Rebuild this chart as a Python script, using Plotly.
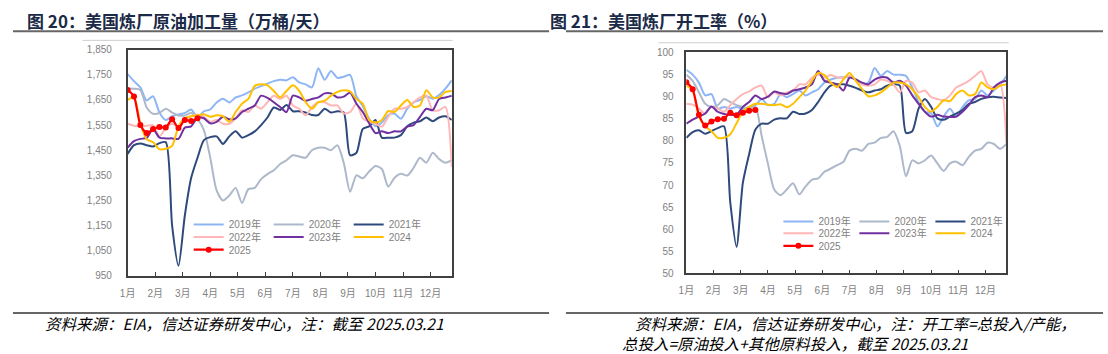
import plotly.graph_objects as go

W, H = 1108, 354

month_labels = [f"{m}月" for m in range(1, 13)]
years = ["2019年", "2020年", "2021年", "2022年", "2023年", "2024", "2025"]
colors = ["#8fb6f4", "#adb9ca", "#2e4a7d", "#ffb6b6", "#7030a0", "#ffc000", "#ff0000"]

crude_2019 = [1753, 1725, 1700, 1648, 1665, 1600, 1570, 1585, 1592, 1598, 1612, 1578, 1605, 1612, 1640, 1655,
              1640, 1660, 1668, 1680, 1695, 1705, 1715, 1725, 1730, 1728, 1740, 1720, 1712, 1700, 1776, 1730,
              1765, 1738, 1742, 1750, 1665, 1625, 1575, 1545, 1560, 1590, 1595, 1575, 1615, 1640, 1650, 1665,
              1655, 1670, 1695, 1728]
crude_2020 = [1696, 1695, 1690, 1620, 1595, 1598, 1615, 1600, 1588, 1588, 1598, 1575, 1530, 1420, 1290, 1250,
              1270, 1300, 1240, 1295, 1300, 1335, 1355, 1370, 1395, 1410, 1430, 1425, 1420, 1450, 1460, 1460,
              1450, 1470, 1400, 1285, 1350, 1338, 1365, 1387, 1375, 1305, 1340, 1356, 1349, 1380, 1420, 1400,
              1440, 1415, 1400, 1410]
crude_2021 = [1435, 1470, 1477, 1470, 1465, 1478, 1482, 1150, 990, 1190, 1340, 1420, 1490, 1502, 1505, 1475,
              1505, 1525, 1500, 1510, 1525, 1550, 1580, 1620, 1610, 1630, 1605, 1605, 1600, 1590, 1590, 1615,
              1600, 1605, 1600, 1430, 1440, 1535, 1545, 1570, 1500, 1500, 1500, 1510, 1545, 1560, 1565, 1580,
              1565, 1580, 1585, 1570]
crude_2022 = [1555, 1547, 1544, 1547, 1550, 1505, 1538, 1555, 1544, 1577, 1585, 1592, 1583, 1563, 1570, 1555,
              1555, 1577, 1609, 1602, 1628, 1615, 1641, 1667, 1654, 1667, 1628, 1615, 1589, 1622, 1641, 1641,
              1628, 1628, 1596, 1602, 1635, 1577, 1563, 1555, 1544, 1583, 1615, 1615, 1622, 1641, 1660, 1667,
              1609, 1609, 1622, 1383]
crude_2023 = [1460, 1486, 1495, 1499, 1534, 1500, 1497, 1497, 1495, 1540, 1545, 1580, 1577, 1557, 1563, 1583,
              1573, 1577, 1602, 1615, 1628, 1667, 1658, 1641, 1622, 1602, 1667, 1660, 1647, 1654, 1660, 1676,
              1676, 1660, 1663, 1680, 1635, 1602, 1557, 1518, 1525, 1518, 1525, 1525, 1544, 1550, 1583, 1615,
              1609, 1654, 1660, 1667]
crude_2024 = [1650, 1660, 1557, 1493, 1482, 1454, 1456, 1467, 1544, 1577, 1585, 1589, 1593, 1583, 1589, 1585,
              1563, 1602, 1635, 1654, 1706, 1712, 1708, 1686, 1660, 1686, 1708, 1686, 1641, 1615, 1641, 1647,
              1667, 1682, 1689, 1684, 1654, 1635, 1570, 1560, 1570, 1606, 1602, 1628, 1650, 1622, 1628, 1689,
              1660, 1660, 1682, 1686]
crude_2025 = [1690, 1664, 1550, 1518, 1534, 1542, 1540, 1573, 1538, 1570, 1566, 1577]

util_2019 = [96.1, 95.0, 93.2, 90.3, 90.6, 87.3, 87.7, 87.3, 87.7, 87.3, 87.7, 88.1, 89.5, 88.1, 88.4, 90.6,
             89.9, 90.6, 91.4, 90.3, 91.0, 91.7, 93.2, 93.9, 94.3, 94.4, 94.4, 93.9, 92.8, 93.2, 96.5, 94.7,
             95.8, 95.0, 95.0, 94.7, 92.1, 88.8, 86.6, 86.2, 83.3, 85.5, 87.3, 85.5, 87.7, 89.2, 89.5, 91.4,
             90.3, 91.4, 92.8, 94.7]
util_2020 = [95.0, 93.6, 91.0, 88.4, 87.7, 88.1, 89.5, 88.8, 88.1, 87.7, 87.3, 87.7, 81.1, 74.8, 69.0, 67.7,
             69.0, 70.4, 67.9, 69.7, 71.2, 71.5, 73.0, 73.7, 74.5, 75.2, 77.8, 78.2, 77.8, 79.3, 79.6, 80.7,
             80.9, 82.2, 78.9, 72.0, 75.6, 74.9, 75.6, 76.7, 74.9, 73.2, 74.9, 75.3, 74.5, 76.4, 77.8, 78.2,
             79.6, 79.3, 78.2, 79.3]
util_2021 = [80.7, 82.0, 82.4, 81.6, 82.2, 82.9, 83.3, 66.0, 56.0, 70.5, 77.0, 82.6, 83.9, 83.9, 84.8, 85.1,
             85.1, 86.6, 86.1, 86.2, 87.0, 88.8, 91.0, 92.5, 92.8, 92.8, 92.5, 92.0, 91.4, 91.0, 91.4, 91.7,
             92.5, 92.8, 92.5, 81.8, 82.2, 87.3, 89.5, 87.7, 85.1, 84.8, 85.5, 86.2, 87.0, 88.4, 88.8, 89.5,
             89.9, 90.0, 89.8, 89.7]
util_2022 = [88.4, 88.2, 87.3, 86.2, 87.7, 87.3, 86.6, 88.1, 89.5, 90.6, 91.2, 92.1, 92.5, 89.9, 91.0, 90.3,
             91.0, 91.4, 92.8, 92.8, 94.3, 95.0, 94.3, 94.9, 94.4, 94.3, 94.7, 93.9, 92.8, 92.5, 92.8, 93.9,
             93.6, 92.8, 91.0, 93.6, 93.2, 91.0, 91.4, 89.9, 89.5, 89.2, 90.3, 92.1, 92.8, 93.6, 94.7, 95.8,
             92.8, 92.1, 92.8, 79.6]
util_2023 = [83.9, 84.8, 85.5, 86.2, 87.8, 86.6, 86.1, 85.9, 85.9, 87.7, 88.8, 90.3, 89.5, 90.0, 91.2, 90.8,
             90.6, 91.4, 91.7, 92.1, 92.8, 95.8, 93.6, 93.2, 92.8, 91.4, 94.3, 93.9, 93.2, 92.8, 93.9, 94.4,
             94.3, 93.2, 93.6, 92.5, 90.3, 88.4, 86.6, 85.5, 85.9, 85.5, 85.4, 85.5, 86.6, 88.1, 89.9, 90.3,
             89.9, 92.1, 93.2, 93.6]
util_2024 = [92.5, 91.5, 85.5, 83.3, 82.2, 80.7, 80.7, 81.5, 84.0, 86.6, 87.7, 88.4, 88.4, 88.2, 88.1, 88.3,
             87.6, 88.4, 89.9, 91.4, 93.6, 95.4, 94.9, 93.2, 92.2, 93.9, 95.4, 93.6, 91.7, 90.1, 90.3, 91.0,
             92.1, 93.2, 93.2, 92.8, 91.7, 89.9, 87.7, 86.6, 87.7, 89.2, 89.0, 90.6, 91.4, 90.3, 90.6, 93.2,
             92.1, 91.7, 92.5, 92.8]
util_2025 = [93.3, 91.7, 85.9, 83.5, 84.4, 84.9, 85.0, 86.4, 85.8, 86.4, 86.8, 87.0]

crude_ticks = list(range(950, 1851, 100))
util_ticks = list(range(50, 101, 5))

crude_series = [crude_2019, crude_2020, crude_2021, crude_2022, crude_2023, crude_2024, crude_2025]
util_series = [util_2019, util_2020, util_2021, util_2022, util_2023, util_2024, util_2025]

FONT = "Liberation Sans, Arial, Noto Sans CJK SC, sans-serif"
CJK = "Noto Sans CJK SC, Liberation Sans, sans-serif"
TICKC = "#7f7f7f"

fig = go.Figure()

legend_rows = [["legend", "legend", "legend", "legend2", "legend2", "legend2", "legend3"],
               ["legend4", "legend4", "legend4", "legend5", "legend5", "legend5", "legend6"]]

for ci, (series, xa, ya) in enumerate([(crude_series, "x", "y"), (util_series, "x2", "y2")]):
    for i, vals in enumerate(series):
        is25 = (i == 6)
        fig.add_trace(go.Scatter(
            x=list(range(len(vals))), y=vals, name=years[i],
            xaxis=xa, yaxis=ya, legend=legend_rows[ci][i],
            mode="lines+markers" if is25 else "lines",
            line=dict(color=colors[i], width=2.2 if is25 else 2, shape="spline", smoothing=0.7),
            marker=dict(size=6, color=colors[i]) if is25 else None,
            showlegend=True,
        ))

def px_x(v):
    return v / W

def px_y(v):
    return 1 - v / H

nweeks = 52
month_pos = [i * nweeks / 12 for i in range(12)]

axis_common = dict(showline=True, mirror=True, linecolor="#404040", linewidth=1.5,
                   showgrid=False, zeroline=False,
                   tickfont=dict(family=FONT, size=10, color=TICKC))

fig.update_layout(
    width=W, height=H, margin=dict(l=0, r=0, t=0, b=0),
    paper_bgcolor="white", plot_bgcolor="white",
    font=dict(family=FONT, size=10, color=TICKC),
    xaxis=dict(domain=[px_x(120.5), px_x(447)], range=[0, nweeks - 1], anchor="y",
               tickvals=month_pos, ticktext=month_labels, ticks="inside", ticklen=4,
               tickcolor="#404040", ticklabelstandoff=7, **axis_common),
    yaxis=dict(domain=[px_y(279.5), px_y(46)], range=[950, 1850.5], anchor="x",
               tickvals=crude_ticks, tickformat=",", ticks="", ticklabelstandoff=12, **axis_common),
    xaxis2=dict(domain=[px_x(683.3), px_x(1005.7)], range=[0, nweeks - 1], anchor="y2",
                tickvals=month_pos, ticktext=month_labels, ticks="inside", ticklen=4,
                tickcolor="#404040", ticklabelstandoff=7, **axis_common),
    yaxis2=dict(domain=[px_y(277), px_y(49)], range=[50, 100.02], anchor="x2",
                tickvals=util_ticks, ticks="", ticklabelstandoff=9, **axis_common),
)

leg_common = dict(orientation="h", bgcolor="rgba(0,0,0,0)", xanchor="left", yanchor="middle",
                  font=dict(family=FONT, size=10, color=TICKC), entrywidthmode="pixels",
                  tracegroupgap=0, borderwidth=0)
left_x, right_x = 182, 776
fig.update_layout(
    legend=dict(x=px_x(left_x), y=px_y(226.5), entrywidth=35, **leg_common),
    legend2=dict(x=px_x(left_x), y=px_y(239.5), entrywidth=35, **leg_common),
    legend3=dict(x=px_x(left_x), y=px_y(252.5), entrywidth=35, **leg_common),
    legend4=dict(x=px_x(right_x), y=px_y(223.5), entrywidth=31, **leg_common),
    legend5=dict(x=px_x(right_x), y=px_y(235.5), entrywidth=31, **leg_common),
    legend6=dict(x=px_x(right_x), y=px_y(248.5), entrywidth=31, **leg_common),
)

TITLEC = "#1b2a47"
annotations = [
    dict(text="<b>图 20：美国炼厂原油加工量（万桶/天）</b>", x=px_x(17), y=px_y(16)),
    dict(text="<b>图 21：美国炼厂开工率（%）</b>", x=px_x(544), y=px_y(16)),
]
anns = []
for a in annotations:
    anns.append(dict(xref="paper", yref="paper", xanchor="left", yanchor="middle", showarrow=False,
                     font=dict(family=CJK, size=17, color=TITLEC), **a))
notes = [
    ("资料来源：EIA，信达证券研发中心，注：截至 2025.03.21", 35, 328),
    ("资料来源：EIA，信达证券研发中心，注：开工率=总投入/产能，", 630, 328),
    ("总投入=原油投入+其他原料投入，截至 2025.03.21", 616, 349),
]
for t, x, y in notes:
    anns.append(dict(xref="paper", yref="paper", xanchor="left", yanchor="middle", showarrow=False,
                     text=t, x=px_x(x), y=px_y(y),
                     font=dict(family=CJK, size=15.5, color="#000000", style="italic")))
fig.update_layout(annotations=anns)

shapes = []
for x0, x1 in [(5, 545), (562, 1103)]:
    shapes.append(dict(type="line", xref="paper", yref="paper", x0=px_x(x0), x1=px_x(x1),
                       y0=px_y(27), y1=px_y(27), line=dict(color="#666666", width=2)))
    shapes.append(dict(type="line", xref="paper", yref="paper", x0=px_x(x0), x1=px_x(x1),
                       y0=px_y(318), y1=px_y(318), line=dict(color="#666666", width=2)))
for x0, x1, y in [(75, 448, 36.5), (655, 1008, 39)]:
    shapes.append(dict(type="line", xref="paper", yref="paper", x0=px_x(x0), x1=px_x(x1),
                       y0=px_y(y), y1=px_y(y), line=dict(color="#cfcfcf", width=1)))
fig.update_layout(shapes=shapes)

fig.write_html("out.html")
